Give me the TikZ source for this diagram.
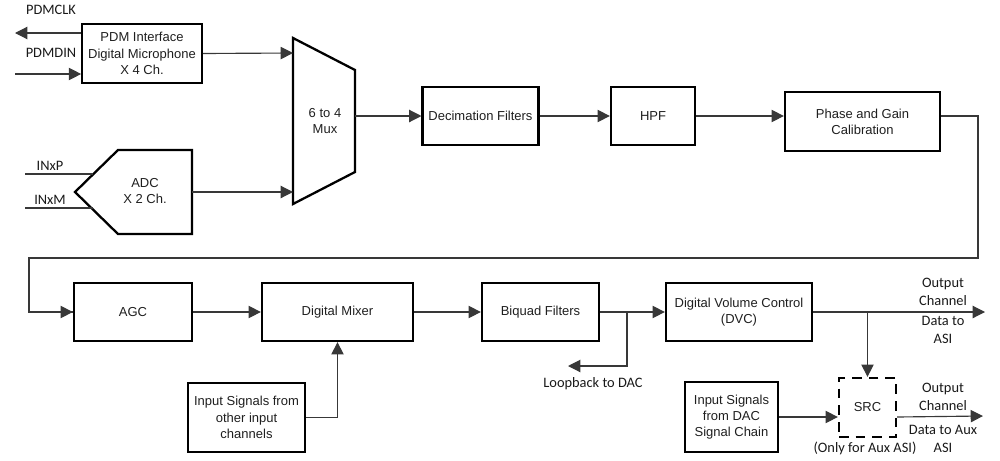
\documentclass[tikz,border=0pt]{standalone}
\usepackage{fontspec}
\setmainfont{Liberation Sans}
\newfontfamily\calib{Carlito}
\usepackage{tikz}
\usetikzlibrary{arrows.meta,positioning}
\tikzset{
  blk/.style={draw=black,line width=1.3pt},
  box/.style={blk,rectangle,align=center,text=black!88,font=\fontsize{7.4}{9.2}\selectfont},
  srcbox/.style={box,dash pattern=on 5.5pt off 4pt},
  conn/.style={draw=black!78,line width=0.65pt},
  arr/.style={conn,-{Triangle[length=7pt,width=7pt]}},
  lbl/.style={align=center,text=black!90,font=\calib\fontsize{8.2}{10.2}\selectfont},
  txt/.style={align=center,text=black!88,font=\fontsize{7.4}{9.2}\selectfont},
}

\begin{document}
\begin{tikzpicture}[x=0.02cm,y=-0.02cm]
      \useasboundingbox (0,0) rectangle (1000,460);

      % top row
      \node[box,minimum width=2.36cm,minimum height=1.18cm] (pdm) at (142,53.5) {PDM Interface\\Digital Microphone\\X 4 Ch.};
      \node[box,minimum width=2.30cm,minimum height=1.16cm] (dec) at (480.5,116) {Decimation Filters};
      \node[box,minimum width=1.68cm,minimum height=1.16cm] (hpf) at (653,116) {HPF};
      \node[box,minimum width=3.10cm,minimum height=1.18cm] (cal) at (862.5,121.5) {Phase and Gain\\Calibration};

      % mux and adc
      \draw[blk] (293,38) -- (355,70) -- (355,172) -- (293,204) -- cycle;
      \node[txt] (mux) at (325,121) {6 to 4\\Mux};
      \draw[blk] (75,192) -- (118,150) -- (192,150) -- (192,234) -- (118,234) -- cycle;
      \node[txt] (adc) at (145,191) {ADC\\X 2 Ch.};

      % bottom row
      \node[box,minimum width=2.36cm,minimum height=1.16cm] (agc) at (133,312) {AGC};
      \node[box,minimum width=3.02cm,minimum height=1.16cm] (mix) at (337.5,312) {Digital Mixer};
      \node[box,minimum width=2.34cm,minimum height=1.16cm] (biq) at (540.5,312) {Biquad Filters};
      \node[box,minimum width=2.92cm,minimum height=1.16cm] (dvc) at (739,312) {Digital Volume Control\\(DVC)};
      \node[box,minimum width=2.34cm,minimum height=1.38cm] (oth) at (246.5,417.5) {Input Signals from\\other input\\channels};
      \node[box,minimum width=1.86cm,minimum height=1.40cm] (dac) at (731.5,417) {Input Signals\\from DAC\\Signal Chain};
      \node[srcbox,minimum width=1.14cm,minimum height=1.18cm] (src) at (867.5,407.5) {SRC};

      % labels
      \node[lbl] (clklbl) at (51,10) {PDMCLK};
      \node[lbl] (dinlbl) at (51,53) {PDMDIN};
      \node[lbl] (inplbl) at (50,166) {INxP};
      \node[lbl] (inmlbl) at (50,200) {INxM};
      \node[lbl] (lblbl) at (593,384) {Loopback to DAC};
      \node[lbl] (auxnote) at (865,448) {(Only for Aux ASI)};
      \node[lbl] (asitop) at (943,292) {Output\\Channel};
      \node[lbl] (asibot) at (943,330) {Data to\\ASI};
      \node[lbl] (auxtop) at (943,397) {Output\\Channel};
      \node[lbl] (auxbot) at (943,438.5) {Data to Aux\\ASI};

      % ports
      \coordinate (clk) at (15,33);
      \coordinate (din) at (15,74);
      \coordinate (inp) at (25,174);
      \coordinate (inpend) at (93,174);
      \coordinate (inm) at (25,208);
      \coordinate (inmend) at (93,208);
      \coordinate (adcout) at (192,192);
      \coordinate (muxa) at (293,53);
      \coordinate (muxb) at (293,192);
      \coordinate (muxout) at (355,116);
      \coordinate (loopR) at (978,258);
      \coordinate (loopL) at (29,258);
      \coordinate (lbtap) at (627,312);
      \coordinate (lb) at (568,366);
      \coordinate (asi) at (985,312);
      \coordinate (aux) at (983,416);

      % connectors
      \draw[arr] (pdm.west |- clk) -- (clk);
      \draw[arr] (din) -- (din -| pdm.west);
      \draw[conn] (inp) -- (inpend);
      \draw[conn] (inm) -- (inmend);
      \draw[arr] (pdm.east) -- (muxa);
      \draw[arr] (adcout) -- (muxb);
      \draw[arr] (muxout) -- (dec.west);
      \draw[arr] (dec.east) -- (hpf.west);
      \draw[arr] (hpf.east) -- (hpf.east -| cal.west);
      \draw[conn] (cal.east |- hpf.east) -| (loopR) -- (loopL) |- (agc.west);
      \draw[arr] (loopL |- agc.west) -- (agc.west);
      \draw[arr] (agc.east) -- (mix.west);
      \draw[arr] (mix.east) -- (biq.west);
      \draw[arr] (biq.east) -- (dvc.west);
      \draw[arr] (lbtap) |- (lb);
      \draw[arr] (oth.east) -| (mix.south);
      \draw[arr] (dvc.east) -- (asi);
      \draw[arr] (dvc.east -| src.north) -- (src.north);
      \draw[arr] (dac.east) -- (dac.east -| src.west);
      \draw[arr] (src.east |- dac.east) -- (aux);
    \end{tikzpicture}
\end{document}
